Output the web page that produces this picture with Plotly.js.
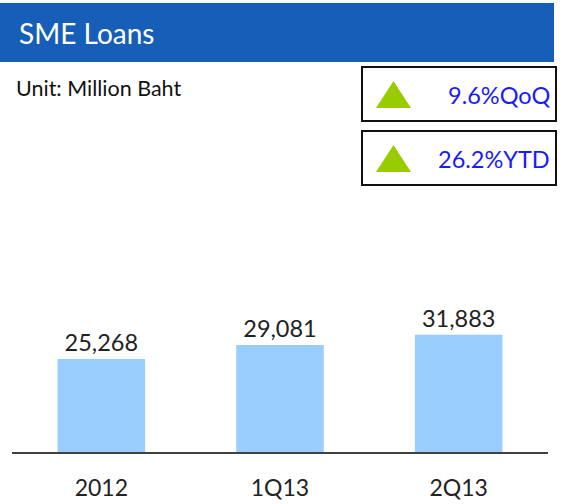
<!DOCTYPE html>
<html>
<head>
<meta charset="utf-8">
<script src="https://cdn.plot.ly/plotly-3.0.1.min.js"></script>
<style>html,body{margin:0;padding:0;background:#fff;}#chart{width:562px;height:504px;}</style>
</head>
<body>
<div id="chart"></div>
<script>
var categories = ["2012", "1Q13", "2Q13"];
var loans = [25268, 29081, 31883];
var valueLabels = ["25,268", "29,081", "31,883"];
var chartTitle = "SME Loans";
var unitText = "Unit: Million Baht";
var badgeTexts = ["9.6%QoQ", "26.2%YTD"];

var W = 562, H = 504;
var M = {l: 12, r: 14, t: 200, b: 52};
var pw = W - M.l - M.r, ph = H - M.t - M.b;
function X(px) { return (px - M.l) / pw; }
function Y(py) { return 1 - (py - M.t) / ph; }

var FONT = "Lato, 'Open Sans', sans-serif";

var trace = {
  type: "bar",
  x: categories,
  y: loans,
  text: valueLabels,
  texttemplate: "%{text}",
  textposition: "outside",
  cliponaxis: false,
  textfont: {family: FONT, size: 23.5, color: "#222222"},
  marker: {color: "#99CCFF"},
  hoverinfo: "none"
};

var shapes = [
  {type: "rect", xref: "paper", yref: "paper", x0: X(0), x1: X(554), y0: Y(62), y1: Y(3),
   fillcolor: "#175EB9", line: {width: 0}, layer: "below"}
];
var annotations = [
  {xref: "paper", yref: "paper", x: X(17), y: Y(33), xanchor: "left", yanchor: "middle",
   text: chartTitle, showarrow: false, font: {family: FONT, size: 28, color: "#ffffff"}},
  {xref: "paper", yref: "paper", x: X(14), y: Y(88), xanchor: "left", yanchor: "middle",
   text: unitText, showarrow: false, font: {family: FONT, size: 21.5, color: "#111111"}}
];
var boxTops = [67, 131];
badgeTexts.forEach(function(t, i) {
  var top = boxTops[i], bot = top + 54;
  shapes.push({type: "rect", xref: "paper", yref: "paper", x0: X(362), x1: X(556), y0: Y(bot), y1: Y(top),
    fillcolor: "rgba(0,0,0,0)", line: {color: "#111111", width: 2}});
  var ty0 = top + 14, ty1 = top + 41;
  shapes.push({type: "path", xref: "paper", yref: "paper",
    path: "M " + X(376) + "," + Y(ty1) + " L " + X(393.5) + "," + Y(ty0) + " L " + X(411) + "," + Y(ty1) + " Z",
    fillcolor: "#99CC00", line: {width: 0}});
  annotations.push({xref: "paper", yref: "paper", x: X(552), y: Y(top + 28), xanchor: "right", yanchor: "middle",
    text: t, showarrow: false, font: {family: FONT, size: 23.5, color: "#1a1aff"}});
});

var layout = {
  width: W, height: H,
  margin: M,
  paper_bgcolor: "#ffffff", plot_bgcolor: "#ffffff",
  showlegend: false,
  bargap: 0.51,
  xaxis: {
    type: "category",
    showline: true, linecolor: "#404040", linewidth: 2,
    showgrid: false, zeroline: false, ticks: "",
    ticklabelstandoff: 14,
    tickfont: {family: FONT, size: 23, color: "#222222"},
    fixedrange: true
  },
  yaxis: {
    range: [0, ph * 272],
    visible: false, showgrid: false, zeroline: false, fixedrange: true
  },
  shapes: shapes,
  annotations: annotations
};

Plotly.newPlot("chart", [trace], layout, {displayModeBar: false, staticPlot: true});
</script>
</body>
</html>
